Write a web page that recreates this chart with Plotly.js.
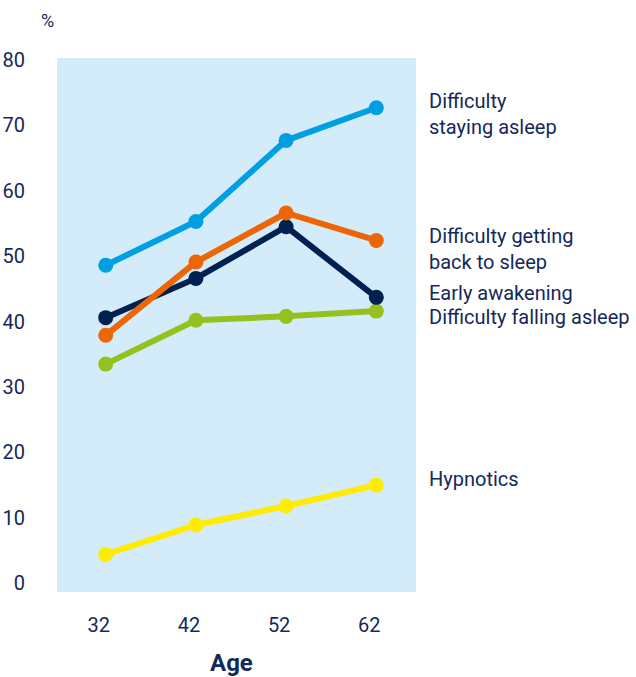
<!DOCTYPE html>
<html>
<head>
<meta charset="utf-8">
<script src="https://cdn.plot.ly/plotly-3.0.1.min.js"></script>
<style>
  html, body { margin: 0; padding: 0; background: #ffffff; }
  #chart { width: 636px; height: 677px; }
</style>
</head>
<body>
<div id="chart"></div>
<script>
// Share of people reporting each sleep complaint, by age (%)
const ages = [32, 42, 52, 62];
const stayingAsleep = [48.6, 55.3, 67.7, 72.7];
const gettingBack   = [37.9, 49.1, 56.6, 52.4];
const earlyWaking   = [40.6, 46.6, 54.5, 43.7];
const fallingAsleep = [33.5, 40.2, 40.8, 41.6];
const hypnotics     = [4.4, 8.9, 11.8, 15.0];

const seriesNames = [
  'Difficulty<br>staying asleep',
  'Difficulty getting<br>back to sleep',
  'Early awakening',
  'Difficulty falling asleep',
  'Hypnotics'
];
const seriesValues = [stayingAsleep, gettingBack, earlyWaking, fallingAsleep, hypnotics];
const seriesColors = ['#009fe3', '#ec6608', '#002050', '#95c11f', '#ffec00'];
// Vertical placement of the end labels (axis units)
const labelY = [71.7, 51.1, 44.3, 40.7, 15.9];

const textColor = '#14285a';
const fontFamily = 'Roboto, "Open Sans", sans-serif';

// Draw the falling-asleep and hypnotics lines first, the others on top
const drawOrder = [4, 3, 2, 1, 0];
const traces = drawOrder.map(i => ({
  type: 'scatter',
  mode: 'lines+markers',
  x: ages,
  y: seriesValues[i],
  name: seriesNames[i],
  line: { color: seriesColors[i], width: 6 },
  marker: { color: seriesColors[i], size: 15 },
  hoverinfo: 'x+y',
  showlegend: false
}));

const annotations = seriesNames.map((name, i) => ({
  xref: 'paper', yref: 'y',
  x: 1, xshift: 11, xanchor: 'left',
  y: labelY[i], yanchor: 'middle',
  text: name,
  align: 'left',
  showarrow: false,
  font: { family: fontFamily, size: 20, color: textColor }
}));
// Unit marker above the y axis
annotations.push({
  xref: 'paper', yref: 'paper',
  x: 0, xshift: -10, xanchor: 'center',
  y: 1, yshift: 38, yanchor: 'middle',
  text: '%',
  showarrow: false,
  font: { family: fontFamily, size: 18, color: textColor }
});
// x-axis title, placed under the tick labels
annotations.push({
  xref: 'paper', yref: 'paper',
  x: 0.5, xshift: -5, xanchor: 'center',
  y: 0, yshift: -71, yanchor: 'middle',
  borderpad: 0,
  text: '<b>Age</b>',
  showarrow: false,
  font: { family: fontFamily, size: 24, color: textColor }
});

const layout = {
  width: 636,
  height: 677,
  margin: { l: 57, r: 220, t: 58, b: 85 },
  paper_bgcolor: '#ffffff',
  plot_bgcolor: '#d4ebf9',
  showlegend: false,
  xaxis: {
    range: [26.6, 66.4],
    tickvals: ages,
    ticktext: ages.map(String),
    showgrid: false,
    zeroline: false,
    showline: false,
    ticks: 'outside',
    ticklen: 0,
    ticklabelstandoff: 15,
    ticklabelshift: -7,
    tickfont: { family: fontFamily, size: 20, color: textColor },
    fixedrange: true
  },
  yaxis: {
    range: [-1.35, 80.3],
    tickvals: [0, 10, 20, 30, 40, 50, 60, 70, 80],
    showgrid: false,
    zeroline: false,
    showline: false,
    ticks: 'outside',
    ticklen: 0,
    ticklabelstandoff: 27,
    tickfont: { family: fontFamily, size: 20, color: textColor },
    fixedrange: true
  },
  annotations: annotations
};

Plotly.newPlot('chart', traces, layout, { displayModeBar: false, staticPlot: true });
</script>
</body>
</html>
